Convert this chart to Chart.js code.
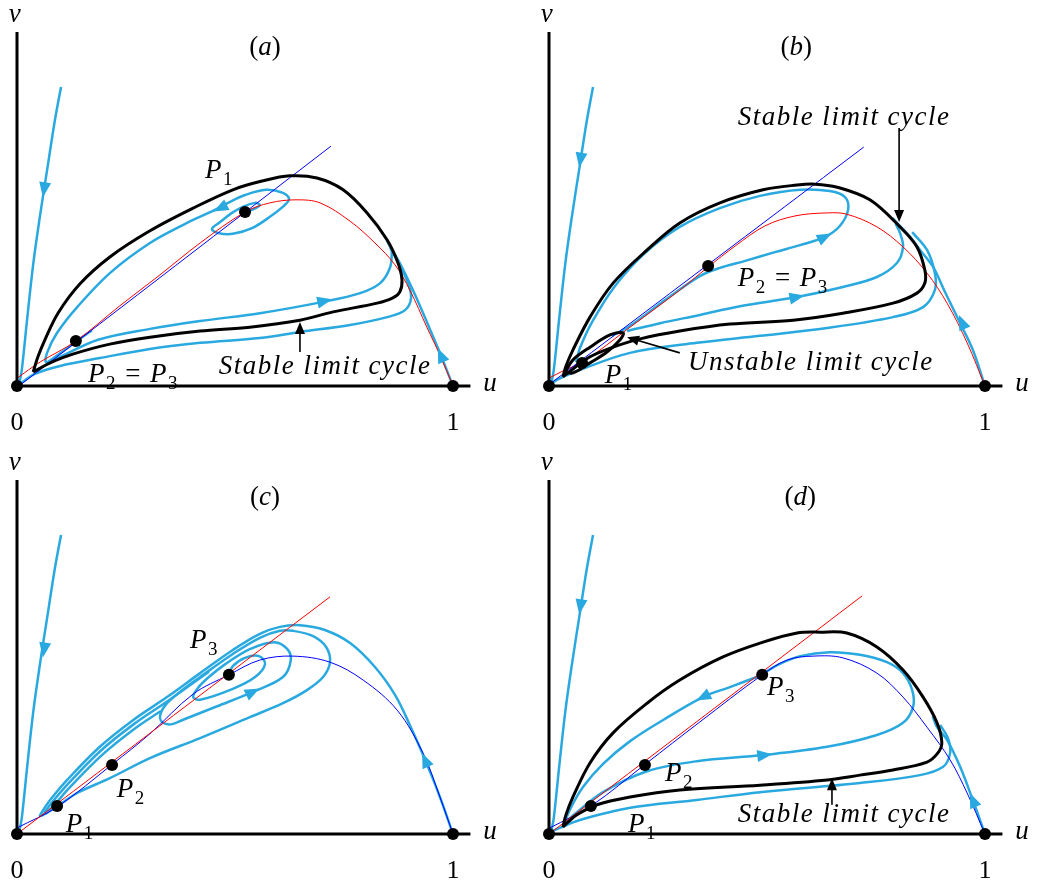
<!DOCTYPE html>
<html>
<head>
<meta charset="utf-8">
<script src="https://cdn.jsdelivr.net/npm/chart.js@4.4.1/dist/chart.umd.min.js"></script>
<style>
  html, body { margin: 0; padding: 0; background: #fff; overflow: hidden; }
  #wrap { position: relative; width: 1047px; height: 893px; }
  canvas { position: absolute; }
</style>
</head>
<body>
<div id="wrap">
  <canvas id="panel-a" width="515" height="445" style="left:0;top:0"></canvas>
  <canvas id="panel-b" width="515" height="445" style="left:532px;top:0"></canvas>
  <canvas id="panel-c" width="515" height="445" style="left:0;top:448px"></canvas>
  <canvas id="panel-d" width="515" height="445" style="left:532px;top:448px"></canvas>
</div>
<script>
// ---- data (u, v) ----
const uAxis = [[0, 0], [1.04, 0]];
const vAxis = [[0, 0], [0, 0.812]];
const steepPath = [[0.101,0.686],[0.087,0.610],[0.069,0.495],[0.053,0.392],[0.037,0.278],[0.023,0.151],[0.011,0.037],[0.005,0.005]];

// (a)
const aBlueLine = [[0.007,0.002],[0.720,0.550]];
const aRedCurve = [[0.000,0.018],[0.053,0.055],[0.135,0.103],[0.236,0.184],[0.328,0.255],[0.420,0.328],[0.523,0.399],[0.580,0.420],[0.640,0.427],[0.695,0.420],[0.764,0.378],[0.821,0.328],[0.867,0.278],[0.901,0.220],[0.940,0.135],[0.970,0.071],[1.000,0.000]];
const aLimitCycle = [[0.037,0.032],[0.048,0.067],[0.064,0.106],[0.094,0.167],[0.144,0.234],[0.213,0.296],[0.305,0.356],[0.404,0.408],[0.495,0.450],[0.562,0.470],[0.626,0.482],[0.688,0.477],[0.748,0.450],[0.803,0.397],[0.849,0.335],[0.874,0.282],[0.883,0.243],[0.878,0.216],[0.862,0.202],[0.826,0.190],[0.725,0.170],[0.649,0.151],[0.534,0.135],[0.420,0.126],[0.305,0.112],[0.213,0.096],[0.128,0.073],[0.076,0.053],[0.046,0.037],[0.037,0.032]];
const aFromRight = [[1.000,0.000],[0.970,0.076],[0.940,0.147],[0.908,0.220],[0.878,0.282],[0.856,0.319],[0.848,0.335]];
const aOuter = [[0.007,0.005],[0.041,0.028],[0.099,0.046],[0.190,0.064],[0.305,0.085],[0.420,0.099],[0.557,0.110],[0.649,0.124],[0.764,0.140],[0.849,0.158],[0.890,0.174],[0.904,0.204],[0.894,0.243],[0.874,0.284],[0.856,0.317]];
const aSpiral = [[0.525,0.399],[0.544,0.406],[0.557,0.415],[0.546,0.420],[0.518,0.411],[0.493,0.397],[0.466,0.376],[0.447,0.360],[0.461,0.351],[0.495,0.349],[0.539,0.362],[0.580,0.388],[0.612,0.413],[0.624,0.429],[0.610,0.443],[0.571,0.450],[0.523,0.438],[0.484,0.420],[0.454,0.404],[0.390,0.374],[0.305,0.328],[0.213,0.259],[0.138,0.181],[0.092,0.122],[0.069,0.076],[0.067,0.055],[0.099,0.067],[0.186,0.106],[0.305,0.131],[0.420,0.149],[0.557,0.167],[0.702,0.193],[0.787,0.213],[0.833,0.236],[0.856,0.273],[0.860,0.312]];
const aShort = [[0.071,0.055],[0.122,0.092],[0.172,0.128]];
const aFixed = [[0,0],[1,0],[0.523,0.399],[0.135,0.103]];

// (b)
const bBlueLine = [[0.005,0.007],[0.722,0.548]];
const bRedCurve = [[0.000,0.018],[0.037,0.037],[0.078,0.055],[0.186,0.135],[0.300,0.220],[0.365,0.273],[0.427,0.321],[0.495,0.367],[0.564,0.390],[0.638,0.397],[0.683,0.394],[0.752,0.365],[0.812,0.319],[0.867,0.259],[0.913,0.190],[0.959,0.099],[1.000,0.000]];
const bStableCycle = [[0.032,0.021],[0.039,0.046],[0.055,0.083],[0.094,0.158],[0.147,0.236],[0.225,0.312],[0.300,0.374],[0.392,0.420],[0.491,0.450],[0.569,0.461],[0.610,0.463],[0.661,0.456],[0.736,0.427],[0.805,0.365],[0.844,0.319],[0.862,0.266],[0.862,0.236],[0.844,0.213],[0.789,0.190],[0.674,0.167],[0.560,0.151],[0.415,0.142],[0.300,0.126],[0.209,0.108],[0.147,0.089],[0.094,0.067],[0.055,0.039],[0.032,0.021]];
const bUnstableCycle = [[0.037,0.032],[0.055,0.060],[0.094,0.089],[0.140,0.117],[0.170,0.122],[0.163,0.106],[0.133,0.078],[0.094,0.053],[0.055,0.030],[0.037,0.032]];
const bFromRight = [[1.000,0.000],[0.972,0.083],[0.943,0.144],[0.908,0.216],[0.881,0.273],[0.851,0.312],[0.828,0.342],[0.805,0.367],[0.788,0.385]];
const bOuter = [[0.005,0.005],[0.018,0.014],[0.071,0.037],[0.186,0.076],[0.339,0.099],[0.484,0.115],[0.638,0.133],[0.789,0.158],[0.858,0.181],[0.885,0.220],[0.885,0.259],[0.867,0.312],[0.833,0.353]];
const bSpiralTop = [[0.144,0.115],[0.186,0.138],[0.266,0.197],[0.346,0.252],[0.392,0.271],[0.450,0.287],[0.518,0.307],[0.576,0.323],[0.633,0.342],[0.667,0.367],[0.686,0.404],[0.679,0.433],[0.644,0.447],[0.576,0.450],[0.484,0.436],[0.392,0.408],[0.300,0.365],[0.220,0.305],[0.151,0.229],[0.099,0.147],[0.071,0.087],[0.062,0.055]];
const bSpiralLow = [[0.179,0.126],[0.255,0.144],[0.346,0.163],[0.438,0.183],[0.569,0.204],[0.674,0.227],[0.752,0.250],[0.798,0.282],[0.812,0.319],[0.805,0.351],[0.795,0.372]];
const bFixed = [[0,0],[1,0],[0.076,0.053],[0.365,0.275]];

// (c)
const cRedLine = [[0,0],[0.718,0.544]];
const cBlueCurve = [[0.000,0.014],[0.092,0.062],[0.220,0.161],[0.305,0.230],[0.404,0.321],[0.486,0.365],[0.557,0.399],[0.633,0.408],[0.718,0.394],[0.794,0.353],[0.872,0.284],[0.931,0.186],[0.970,0.085],[1.000,0.000]];
const cSpiral = [[1.000,0.000],[0.970,0.085],[0.936,0.170],[0.901,0.250],[0.867,0.319],[0.821,0.383],[0.764,0.438],[0.706,0.468],[0.649,0.479],[0.603,0.475],[0.557,0.459],[0.495,0.422],[0.420,0.369],[0.344,0.314],[0.266,0.261],[0.190,0.200],[0.115,0.124],[0.076,0.078],[0.057,0.050],[0.053,0.041],
  [0.087,0.060],[0.138,0.094],[0.213,0.128],[0.305,0.174],[0.420,0.220],[0.534,0.268],[0.610,0.300],[0.665,0.330],[0.702,0.360],[0.718,0.394],[0.709,0.429],[0.679,0.454],[0.633,0.466],
  [0.603,0.466],[0.557,0.450],[0.495,0.413],[0.420,0.360],[0.369,0.322],[0.340,0.295],[0.328,0.270],[0.335,0.255],
  [0.356,0.252],[0.381,0.262],[0.459,0.293],[0.541,0.326],[0.610,0.360],[0.628,0.399],[0.619,0.425],[0.590,0.440],[0.534,0.424],[0.477,0.389],[0.440,0.360],[0.415,0.335],[0.404,0.314],
  [0.420,0.308],[0.495,0.333],[0.546,0.360],[0.569,0.390],[0.555,0.408],[0.523,0.404],[0.495,0.385],[0.486,0.365]];
const cBundle1 = [[0.062,0.048],[0.080,0.072],[0.118,0.116],[0.192,0.191],[0.268,0.252],[0.346,0.305],[0.440,0.372]];
const cBundle2 = [[0.066,0.046],[0.085,0.066],[0.122,0.108],[0.196,0.182],[0.272,0.243],[0.330,0.282]];
const cFixed = [[0,0],[1,0],[0.092,0.064],[0.218,0.158],[0.486,0.365]];

// (d)
const dRedLine = [[0,0],[0.718,0.546]];
const dBlueCurve = [[0.002,0.014],[0.096,0.064],[0.222,0.161],[0.346,0.257],[0.489,0.365],[0.546,0.399],[0.606,0.408],[0.674,0.404],[0.752,0.369],[0.812,0.314],[0.867,0.245],[0.920,0.170],[0.959,0.094],[1.000,0.000]];
const dLimitCycle = [[0.032,0.016],[0.039,0.044],[0.055,0.085],[0.094,0.163],[0.147,0.232],[0.225,0.300],[0.300,0.353],[0.399,0.406],[0.491,0.440],[0.569,0.461],[0.622,0.463],[0.683,0.461],[0.752,0.429],[0.812,0.376],[0.858,0.314],[0.890,0.255],[0.901,0.209],[0.892,0.186],[0.867,0.165],[0.789,0.147],[0.713,0.135],[0.638,0.124],[0.484,0.112],[0.300,0.101],[0.186,0.085],[0.110,0.067],[0.064,0.044],[0.041,0.025],[0.032,0.016]];
const dFromRight = [[1.000,0.000],[0.972,0.078],[0.943,0.154],[0.913,0.216],[0.890,0.245],[0.880,0.270]];
const dOuter = [[0.005,0.005],[0.025,0.014],[0.071,0.032],[0.186,0.060],[0.339,0.078],[0.484,0.096],[0.713,0.117],[0.851,0.135],[0.904,0.154],[0.920,0.186],[0.915,0.220],[0.897,0.250]];
const dLoop = [[0.489,0.365],[0.415,0.337],[0.353,0.314],[0.261,0.261],[0.186,0.213],[0.124,0.161],[0.078,0.108],[0.050,0.060],[0.039,0.030],[0.053,0.041],[0.124,0.096],[0.225,0.144],[0.339,0.167],[0.491,0.181],[0.638,0.200],[0.752,0.227],[0.812,0.255],[0.835,0.291],[0.833,0.330],[0.812,0.369],[0.775,0.394],[0.713,0.411],[0.644,0.417],[0.576,0.408],[0.525,0.388],[0.493,0.369]];
const dFixed = [[0,0],[1,0],[0.096,0.064],[0.220,0.158],[0.489,0.365]];

// arrowheads on trajectories: [u, v, du, dv]
const aHeads = [[0.062,0.450,-0.016,-0.103],[0.972,0.071,-0.03,0.07],[0.466,0.408,-0.03,-0.015],[0.706,0.195,0.05,0.011]];
const bHeads = [[0.072,0.518,-0.016,-0.103],[0.947,0.147,-0.03,0.07],[0.633,0.342,0.04,0.02],[0.569,0.204,0.05,0.01]];
const cHeads = [[0.062,0.422,-0.016,-0.103],[0.936,0.170,-0.035,0.08],[0.541,0.326,0.06,0.03]];
const dHeads = [[0.072,0.521,-0.016,-0.103],[0.972,0.078,-0.03,0.07],[0.353,0.314,-0.06,-0.03],[0.495,0.181,0.06,0.007]];

// ---- drawing ----
const CYAN = '#29a9df';
const FONT = '"Liberation Serif"';

function curve(pts, color, width, order, tension) {
  return {
    data: pts.map(p => ({ x: p[0], y: p[1] })),
    showLine: true, borderColor: color, borderWidth: width,
    pointRadius: 0, pointHoverRadius: 0, fill: false,
    tension: tension === undefined ? 0.35 : tension, order
  };
}

function dots(pts) {
  return {
    data: pts.map(p => ({ x: p[0], y: p[1] })),
    showLine: false, pointRadius: 6, pointBackgroundColor: '#000',
    pointBorderWidth: 0, order: 0
  };
}

// italic letters, upright digits/punctuation, "_n" as subscript
function drawMath(ctx, str, x, y, size, align, base, spacing) {
  const ital = `italic ${size}px ${FONT}`;
  const up = `${size}px ${FONT}`;
  const sub = `${Math.round(size * 0.72)}px ${FONT}`;
  const runs = [];
  for (let i = 0; i < str.length; i++) {
    const c = str[i];
    if (c === '_') { runs.push({ c: str[i + 1], f: sub, dy: size * 0.27 }); i++; continue; }
    runs.push({ c, f: /[a-zA-Z]/.test(c) ? ital : up, dy: 0 });
  }
  let w = 0;
  runs.forEach(r => {
    ctx.font = r.f;
    r.w = ctx.measureText(r.c).width + spacing;
    if (r.c === ' ') r.w = size * 0.3;
    w += r.w;
  });
  let cx = align === 'center' ? x - w / 2 : x;
  ctx.textAlign = 'left';
  ctx.textBaseline = base || 'alphabetic';
  runs.forEach(r => { ctx.font = r.f; ctx.fillText(r.c, cx, y + r.dy); cx += r.w; });
}

function head(ctx, x, y, dx, dy, len, half, color) {
  const n = Math.hypot(dx, dy); dx /= n; dy /= n;
  ctx.fillStyle = color;
  ctx.beginPath();
  ctx.moveTo(x + dx * len / 2, y + dy * len / 2);
  ctx.lineTo(x - dx * len / 2 - dy * half, y - dy * len / 2 + dx * half);
  ctx.lineTo(x - dx * len / 2 + dy * half, y - dy * len / 2 - dx * half);
  ctx.closePath();
  ctx.fill();
}

const overlay = {
  id: 'overlay',
  afterDatasetsDraw(chart, args, opts) {
    const { ctx } = chart;
    const xs = chart.scales.x, ys = chart.scales.y;
    const X = u => xs.getPixelForValue(u), Y = v => ys.getPixelForValue(v);
    ctx.save();
    (opts.heads || []).forEach(h => {
      head(ctx, X(h[0]), Y(h[1]), h[2], -h[3], 15, 6, CYAN);
    });
    (opts.pointers || []).forEach(p => {
      const x0 = X(p[0][0]), y0 = Y(p[0][1]), x1 = X(p[1][0]), y1 = Y(p[1][1]);
      const dx = x1 - x0, dy = y1 - y0, n = Math.hypot(dx, dy);
      ctx.strokeStyle = '#000'; ctx.lineWidth = 1.6;
      ctx.beginPath(); ctx.moveTo(x0, y0);
      ctx.lineTo(x1 - dx / n * 8, y1 - dy / n * 8); ctx.stroke();
      head(ctx, x1 - dx / n * 6, y1 - dy / n * 6, dx, dy, 12, 5, '#000');
    });
    ctx.fillStyle = '#000';
    (opts.notes || []).forEach(t => {
      drawMath(ctx, t.t, X(t.at[0]), Y(t.at[1]), t.size || 27, t.align, t.base, t.spacing === undefined ? 1.5 : t.spacing);
    });
    ctx.restore();
  }
};

const axisNotes = [
  { t: '0', at: [0, -0.085], align: 'center', base: 'middle', size: 26, spacing: 0 },
  { t: '1', at: [1, -0.085], align: 'center', base: 'middle', size: 26, spacing: 0 },
  { t: 'u', at: [1.085, 0.004], align: 'center', base: 'middle', spacing: 0 },
  { t: 'v', at: [-0.005, 0.851], align: 'center', base: 'middle', spacing: 0 }
];

function makePanel(id, thin, thick, cyan, fixed, heads, pointers, notes) {
  const datasets = [dots(fixed), curve(uAxis, '#000', 3, 1, 0), curve(vAxis, '#000', 3, 1, 0)];
  thick.forEach(c => datasets.push(curve(c, '#000', 3, 1)));
  thin.forEach(c => datasets.push(curve(c[0], c[1], 1, 2)));
  cyan.forEach(c => datasets.push(curve(c, CYAN, 2.5, 3)));
  new Chart(document.getElementById(id), {
    type: 'scatter',
    data: { datasets },
    options: {
      responsive: false,
      animation: false,
      events: [],
      layout: { padding: 0, autoPadding: false },
      scales: {
        x: { type: 'linear', display: false, min: -17 / 436, max: 498 / 436 },
        y: { type: 'linear', display: false, min: -59 / 436, max: 386 / 436 }
      },
      plugins: {
        legend: { display: false },
        tooltip: { enabled: false },
        overlay: { heads, pointers, notes: axisNotes.concat(notes) }
      }
    },
    plugins: [overlay]
  });
}

makePanel('panel-a',
  [[aBlueLine, '#0000ff'], [aRedCurve, '#ff0000']],
  [aLimitCycle],
  [steepPath, aFromRight, aOuter, aSpiral, aShort],
  aFixed, aHeads,
  [[[0.649, 0.078], [0.649, 0.147]]],
  [
    { t: '(a)', at: [0.569, 0.775], align: 'center', base: 'middle', spacing: 0 },
    { t: 'P_1', at: [0.431, 0.477], align: 'left' },
    { t: 'P_2 = P_3', at: [0.163, 0.009], align: 'left' },
    { t: 'Stable limit cycle', at: [0.463, 0.028], align: 'left' }
  ]);

makePanel('panel-b',
  [[bBlueLine, '#0000ff'], [bRedCurve, '#ff0000']],
  [bStableCycle, bUnstableCycle],
  [steepPath, bFromRight, bOuter, bSpiralTop, bSpiralLow],
  bFixed, bHeads,
  [[[0.803, 0.592], [0.803, 0.376]], [[0.300, 0.076], [0.179, 0.112]]],
  [
    { t: '(b)', at: [0.567, 0.775], align: 'center', base: 'middle', spacing: 0 },
    { t: 'Stable limit cycle', at: [0.433, 0.599], align: 'left' },
    { t: 'P_2 = P_3', at: [0.433, 0.229], align: 'left' },
    { t: 'Unstable limit cycle', at: [0.319, 0.037], align: 'left' },
    { t: 'P_1', at: [0.128, 0.007], align: 'left' }
  ]);

makePanel('panel-c',
  [[cRedLine, '#ff0000'], [cBlueCurve, '#0000ff']],
  [],
  [steepPath, cSpiral, cBundle1, cBundle2],
  cFixed, cHeads,
  [],
  [
    { t: '(c)', at: [0.569, 0.771], align: 'center', base: 'middle', spacing: 0 },
    { t: 'P_3', at: [0.397, 0.427], align: 'left' },
    { t: 'P_2', at: [0.229, 0.085], align: 'left' },
    { t: 'P_1', at: [0.112, 0.005], align: 'left' }
  ]);

makePanel('panel-d',
  [[dRedLine, '#ff0000'], [dBlueCurve, '#0000ff']],
  [dLimitCycle],
  [steepPath, dFromRight, dOuter, dLoop],
  dFixed, dHeads,
  [[[0.649, 0.067], [0.649, 0.128]]],
  [
    { t: '(d)', at: [0.576, 0.771], align: 'center', base: 'middle', spacing: 0 },
    { t: 'P_3', at: [0.500, 0.319], align: 'left' },
    { t: 'P_2', at: [0.266, 0.122], align: 'left' },
    { t: 'P_1', at: [0.181, 0.005], align: 'left' },
    { t: 'Stable limit cycle', at: [0.433, 0.028], align: 'left' }
  ]);
</script>
</body>
</html>
